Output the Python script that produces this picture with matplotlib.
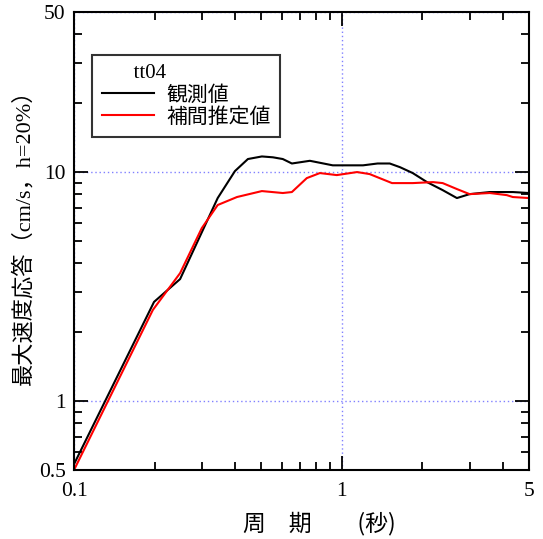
import numpy as np
import matplotlib.pyplot as plt
from matplotlib.ticker import LogLocator, NullFormatter, FixedLocator

plt.rcParams['font.family'] = ['Liberation Serif', 'Noto Sans CJK JP']

# observed (観測値)
obs_period = [0.1, 0.199, 0.249, 0.344, 0.399, 0.446, 0.503, 0.553, 0.602, 0.651,
              0.760, 0.925, 1.07, 1.20, 1.36, 1.51, 1.65, 1.84, 2.08, 2.38,
              2.69, 3.00, 3.57, 4.35, 5.0]
obs_vel = [0.53, 2.71, 3.41, 7.70, 10.1, 11.4, 11.7, 11.6, 11.4, 10.9,
           11.2, 10.7, 10.7, 10.7, 10.9, 10.9, 10.5, 9.9, 9.04, 8.34,
           7.70, 8.01, 8.18, 8.18, 8.1]

# interpolated estimate (補間推定値)
est_period = [0.1, 0.197, 0.249, 0.300, 0.344, 0.406, 0.503, 0.602, 0.651, 0.740,
              0.828, 0.958, 1.14, 1.27, 1.54, 1.84, 2.19, 2.38, 2.69, 3.00,
              3.57, 4.13, 4.35, 5.0]
est_vel = [0.5, 2.50, 3.62, 5.69, 7.18, 7.78, 8.26, 8.10, 8.18, 9.41,
           9.9, 9.7, 10.0, 9.8, 8.95, 8.95, 9.04, 8.95, 8.43, 8.01,
           8.10, 7.93, 7.78, 7.70]

x_ticks = [0.1, 1, 5]
x_labels = ['0.1', '1', '5']
y_ticks = [0.5, 1, 10, 50]
y_labels = ['0.5', '1', '10', '50']

fig = plt.figure(figsize=(5.43, 5.39), dpi=100)
ax = fig.add_axes([74/543, 1-470/539, 455/543, 458/539])

ax.plot(obs_period, obs_vel, color='black', lw=1.5, label='観測値')
ax.plot(est_period, est_vel, color='red', lw=1.5, label='補間推定値')

ax.set_xscale('log')
ax.set_yscale('log')
ax.set_xlim(0.1, 5)
ax.set_ylim(0.5, 50)

ax.xaxis.set_major_locator(FixedLocator(x_ticks))
ax.set_xticklabels(x_labels)
ax.yaxis.set_major_locator(FixedLocator(y_ticks))
ax.set_yticklabels(y_labels)
ax.xaxis.set_minor_locator(LogLocator(subs=np.arange(2, 10)))
ax.yaxis.set_minor_locator(LogLocator(subs=np.arange(2, 10)))
ax.xaxis.set_minor_formatter(NullFormatter())
ax.yaxis.set_minor_formatter(NullFormatter())

ax.tick_params(which='both', direction='in', top=True, right=True, width=1.3)
ax.tick_params(which='major', length=10, labelsize=15.5)
ax.tick_params(which='minor', length=6)
ax.tick_params(axis='x', which='major', pad=9)
ax.tick_params(axis='y', which='major', pad=6)
for s in ax.spines.values():
    s.set_linewidth(1.5)

ax.grid(which='major', color='#8080ff', linestyle=(0, (1, 2)), lw=1)

ax.set_xlabel('周　期　　(秒)', fontsize=16.5, family='Noto Sans CJK JP',
              labelpad=7, x=0.54)
ax.set_ylabel('最大速度応答（cm/s，h=20%）', fontsize=16, labelpad=3, y=0.52)

leg = ax.legend(title='      tt04', loc='upper left', bbox_to_anchor=(0.04, 0.906),
                fontsize=15, title_fontsize=15, frameon=True, fancybox=False,
                edgecolor='black', borderaxespad=0, handlelength=2.5,
                handletextpad=0.6, labelspacing=0.12, borderpad=0.45,
                alignment='left')
leg.get_frame().set_linewidth(1.5)

fig.savefig('out.png', dpi=100)
